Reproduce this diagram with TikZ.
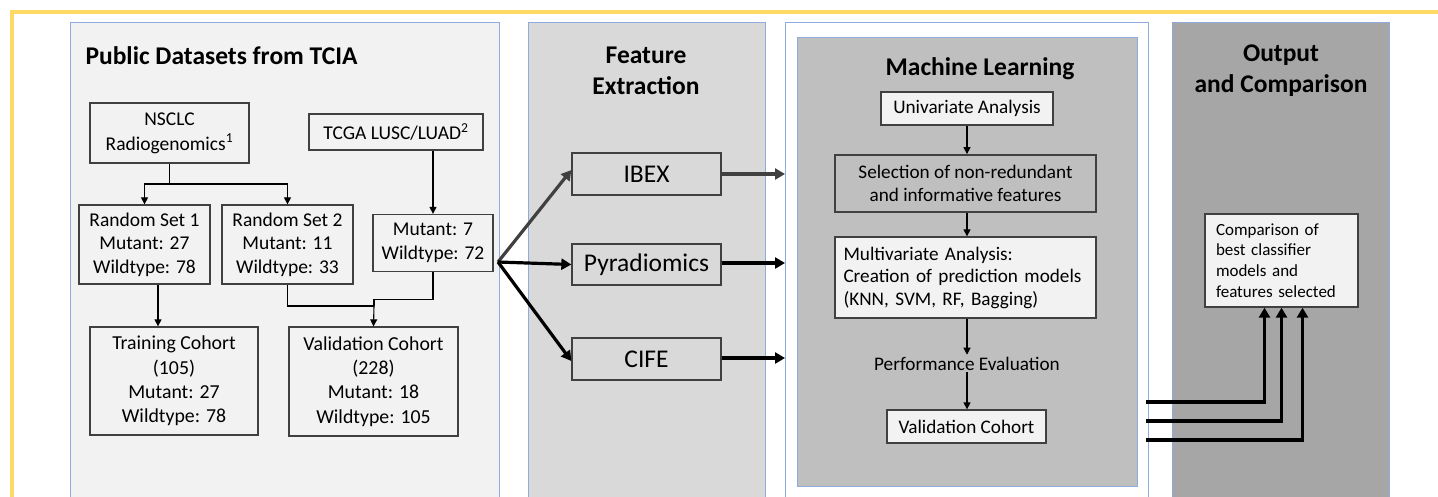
\documentclass[tikz,border=0pt]{standalone}
\usepackage{fontspec}
\setmainfont{Carlito}
\usetikzlibrary{arrows.meta}
\definecolor{frameyel}{HTML}{FFD966}
\definecolor{panelblue}{HTML}{8FAADC}
\definecolor{pone}{HTML}{F2F2F2}
\definecolor{ptwo}{HTML}{D9D9D9}
\definecolor{pthree}{HTML}{BFBFBF}
\definecolor{pfour}{HTML}{A6A6A6}
\definecolor{boxline}{HTML}{404040}
\tikzset{
  panel/.style={draw=panelblue, line width=1pt},
  box/.style={draw=boxline, line width=1.3pt, inner sep=2pt, align=center, font=\fontsize{19.5}{23.5}\selectfont},
  mlbox/.style={box, font=\fontsize{19.2}{22.5}\selectfont},
  ttl/.style={align=center, font=\bfseries\fontsize{25.5}{31}\selectfont},
  fxbox/.style={box, fill=ptwo, minimum width=149pt, font=\fontsize{25.5}{28}\selectfont},
  thin arrow/.style={draw=black, line width=1.1pt, -{Triangle[length=7pt,width=7pt]}},
  thick arrow/.style={draw=black, line width=3.2pt, -{Triangle[length=10pt,width=11pt]}},
  thin line/.style={draw=black, line width=1.1pt},
}
\begin{document}
\begin{tikzpicture}[x=1pt,y=-1pt]
\useasboundingbox (0,0) rectangle (1438,496);
\clip (0,0) rectangle (1438,496);
\fill[white] (0,0) rectangle (1438,496);
% yellow frame
\draw[frameyel, line width=4pt] (12,520) -- (12,12) -- (1460,12);
% panels
\filldraw[panel, fill=pone] (70,22) rectangle (499,520);
\filldraw[panel, fill=ptwo] (528,22) rectangle (765,520);
\filldraw[panel, fill=white] (785,22) rectangle (1148,520);
\filldraw[panel, fill=pthree] (797,37) rectangle (1137,486);
\filldraw[panel, fill=pfour] (1172,22) rectangle (1389,520);
% titles
\node[ttl, anchor=west] (t1) at (82,56) {Public Datasets from TCIA};
\node[ttl] (t2) at (646,71) {Feature\\Extraction};
\node[ttl] (t3) at (980,69) {Machine Learning};
\node[ttl] (t4) at (1281,71) {Output\\and Comparison};
% panel 1 boxes
\node[box, fill=pone, minimum width=159pt, minimum height=60pt, font=\fontsize{19.5}{25}\selectfont] (nsclc) at (169.5,133) {NSCLC\\Radiogenomics\textsuperscript{1}};
\node[box, fill=pone, minimum width=174pt, minimum height=36pt] (tcga) at (396,132) {TCGA LUSC/LUAD\textsuperscript{2}};
\node[box, fill=pone, minimum width=131pt, minimum height=79pt] (rs1) at (144.5,244.5) {Random Set 1\\Mutant: 27\\Wildtype: 78};
\node[box, fill=pone, minimum width=131pt, minimum height=79pt] (rs2) at (287.5,244.5) {Random Set 2\\Mutant: 11\\Wildtype: 33};
\node[box, fill=pone, minimum width=120pt, minimum height=57pt] (mut) at (433,243) {Mutant: 7\\Wildtype: 72};
\node[box, fill=pone, minimum width=168pt, minimum height=108pt, font=\fontsize{19.8}{24.2}\selectfont] (train) at (174,381) {Training Cohort\\(105)\\Mutant: 27\\Wildtype: 78};
\node[box, fill=pone, minimum width=169pt, minimum height=109pt, font=\fontsize{19.8}{24.2}\selectfont] (valid) at (373.5,381.5) {Validation Cohort\\(228)\\Mutant: 18\\Wildtype: 105};
% panel 1 connectors
\coordinate (split) at (169.5,184);
\draw[thin line] (nsclc.south) -- (split);
\draw[thin arrow] (split) -| (rs1.north);
\draw[thin arrow] (split) -| (rs2.north);
\draw[thin arrow] (tcga.south -| mut.north) -- (mut.north);
\draw[thin arrow] ([xshift=-16pt]train.north |- rs1.south) -- ([xshift=-16pt]train.north);
\coordinate (merge) at (374,306);
\draw[thin line] (rs2.south) |- (merge);
\draw[thin line] (mut.south) -- ++(0,27) -| (merge);
\draw[thin arrow] (merge) -- (valid.north);
% panel 2
\node[fxbox, minimum height=42pt] (ibex) at (646.5,174) {IBEX};
\node[fxbox, minimum height=41pt] (pyra) at (646.5,264.5) {Pyradiomics};
\node[fxbox, minimum height=42pt] (cife) at (646.5,359) {CIFE};
\coordinate (fan) at (498,262);
\draw[thick arrow, draw=boxline] (fan) -- ([yshift=4pt]ibex.west);
\draw[thick arrow] (fan) -- (pyra.west);
\draw[thick arrow] (fan) -- ([yshift=-2pt]cife.west);
\coordinate (mlin1) at (785,174);
\coordinate (mlin2) at (785,263);
\coordinate (mlin3) at (785,358);
\draw[thick arrow, draw=boxline] (ibex.east |- mlin1) -- (mlin1);
\draw[thick arrow] (pyra.east |- mlin2) -- (mlin2);
\draw[thick arrow] (cife.east |- mlin3) -- (mlin3);
% panel 3
\node[mlbox, fill=pone, minimum width=172pt, minimum height=33pt] (uni) at (967,108.5) {Univariate Analysis};
\node[mlbox, fill=pthree, line width=1.8pt, minimum width=261pt, minimum height=57pt] (sel) at (965.5,183.5) {Selection of non-redundant\\and informative features};
\node[mlbox, align=left, fill=pone, minimum width=261pt, minimum height=81pt, text width=244pt] (multi) at (965.5,277.5) {Multivariate Analysis:\\Creation of prediction models\\(KNN, SVM, RF, Bagging)};
\node[font=\fontsize{19.2}{22.5}\selectfont] (perf) at (967,364) {Performance Evaluation};
\node[mlbox, fill=pone, minimum width=159pt, minimum height=33pt] (mlval) at (966.5,426.5) {Validation Cohort};
\draw[thin arrow] (uni.south) -- (uni.south |- sel.north);
\draw[thin arrow] (sel.south -| uni.south) -- (multi.north -| uni.south);
\draw[thin arrow] (multi.south -| uni.south) -- ([yshift=-1pt]perf.north -| uni.south);
\draw[thin arrow] ([yshift=2pt]perf.south -| uni.south) -- (mlval.north -| uni.south);
% panel 4
\node[box, align=left, fill=pone, minimum width=153pt, minimum height=93pt, text width=131pt, font=\fontsize{17}{20.6}\selectfont] (comp) at (1281.5,260.5) {Comparison of\\best classifier\\models and\\features selected};
\coordinate (o1) at (1146,402);
\coordinate (o2) at (1146,421);
\coordinate (o3) at (1146,440);
\draw[thick arrow] (o1) -| ([xshift=-17pt]comp.south);
\draw[thick arrow] (o2) -| (comp.south);
\draw[thick arrow] (o3) -| ([xshift=21pt]comp.south);
\end{tikzpicture}
\end{document}
